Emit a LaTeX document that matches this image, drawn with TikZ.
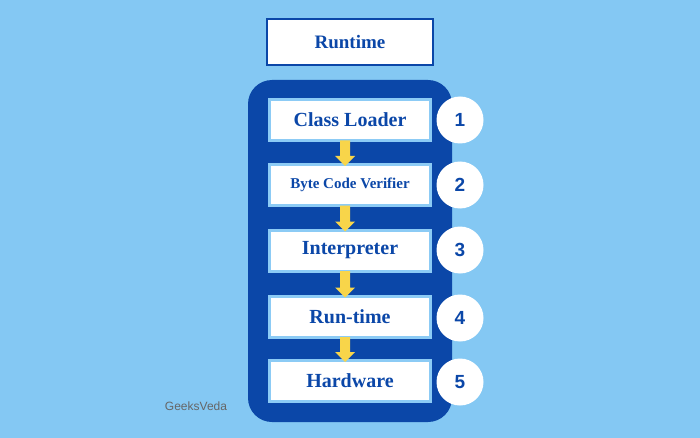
\documentclass[tikz,border=0pt]{standalone}
\usepackage{fontspec}
\usetikzlibrary{calc}
\setmainfont{Liberation Serif}
\newfontfamily\gv{Liberation Sans}
\definecolor{bg}{HTML}{84C8F3}
\definecolor{dk}{HTML}{0B47A8}
\definecolor{lb}{HTML}{8CCBF5}
\definecolor{yl}{HTML}{F8D54A}
\begin{document}
\begin{tikzpicture}[x=1pt,y=-1pt,
  stepbox/.style={draw=lb,line width=3pt,fill=white,minimum width=161pt,minimum height=41pt,text=dk,font=\bfseries\fontsize{20}{20}\selectfont},
  num/.style={circle,fill=white,minimum size=47pt,inner sep=0pt,text=dk,font=\gv\bfseries\fontsize{19}{19}\selectfont},
  flow/.style={draw=none,fill=yl}]
\fill[bg] (0,0) rectangle (700,438);
\useasboundingbox (0,0) rectangle (700,438);
\node[draw=dk,line width=2pt,fill=white,minimum width=166pt,minimum height=46pt,text=dk,font=\bfseries\fontsize{19}{19}\selectfont] (rt) at (350,42.5) {Runtime};
\fill[dk,rounded corners=24pt] (248,80) rectangle (452,422);
\node[stepbox] (s1) at (350,120) {Class Loader};
\node[stepbox,font=\bfseries\fontsize{15}{15}\selectfont] (s2) at (350,185) {Byte Code Verifier};
\node[stepbox] (s3) at (350,250.5) {Interpreter};
\node[stepbox] (s4) at (350,316.5) {Run-time};
\node[stepbox] (s5) at (350,381) {Hardware};
\foreach \i/\y in {1/120,2/185,3/250,4/318,5/382}{
  \node[num] (n\i) at (460,\y) {\i};
}
\foreach \a/\b in {s1/s2,s2/s3,s3/s4,s4/s5}{
  \path (\a.south) ++(-5,-1.5) coordinate (\a t);
  \path (\b.north) ++(-5,3) coordinate (\b h);
  \fill[flow] ($(\a t)+(-5,0)$) -- ($(\a t)+(5,0)$) -- ($(\b h)+(5,-10)$) -- ($(\b h)+(10,-10)$) -- (\b h) -- ($(\b h)+(-10,-10)$) -- ($(\b h)+(-5,-10)$) -- cycle;
}
\node[text=gray!80!black,font=\gv\fontsize{12}{12}\selectfont] (gv) at (196,406) {GeeksVeda};
\end{tikzpicture}
\end{document}
